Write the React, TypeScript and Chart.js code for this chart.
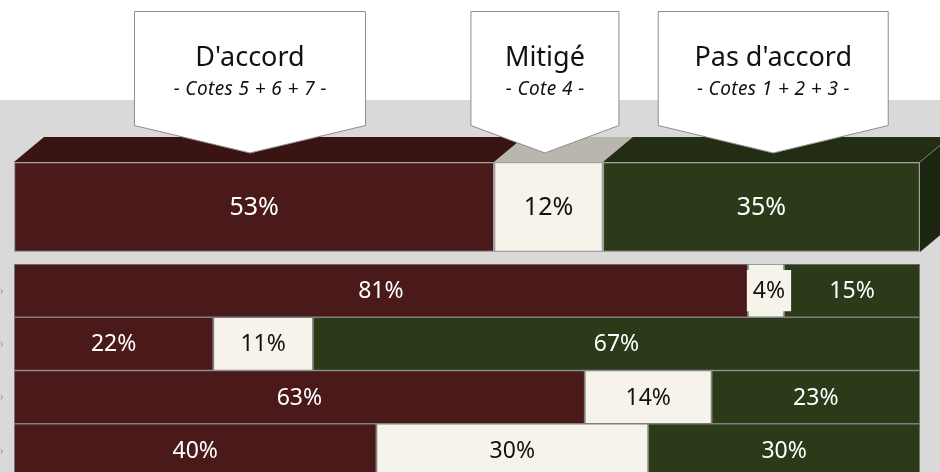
import React, { useEffect, useRef } from "react";
import { Chart, registerables } from "chart.js";

Chart.register(...registerables);

// ---------- data ----------
const seriesNames = ["D'accord", "Mitigé", "Pas d'accord"];
const seriesSubtitles = ["- Cotes 5 + 6 + 7 -", "- Cote 4 -", "- Cotes 1 + 2 + 3 -"];
const totalCategory = ["Total"];
const totalAccord = [53];
const totalMitige = [12];
const totalPasAccord = [35];
const itemCategories = ["Q1", "Q2", "Q3", "Q4"];
const itemAccord = [81, 22, 63, 40];
const itemMitige = [4, 11, 14, 30];
const itemPasAccord = [15, 67, 23, 30];
// callout anchor positions (in % units of the x scale) and widths
const calloutCenters = [26.05, 58.6, 83.8];
const calloutWidths = [231, 148, 230];

// ---------- styles ----------
const frontColors = ["#4a1a1a", "#f6f3ea", "#2b3a18"];
const topColors = ["#3a1313", "#b8b6af", "#222d13"];
const sideColor = "#1d2610";
const labelColors = ["#ffffff", "#111111", "#ffffff"];
const FONT = '"Noto Sans", "DejaVu Sans", sans-serif';

const DX = 30;
const DY = 25;

function drawLabels(chart: any, fontSize: number, boxSmall: boolean) {
  const ctx = chart.ctx;
  ctx.save();
  ctx.font = `${fontSize}px ${FONT}`;
  ctx.textAlign = "center";
  ctx.textBaseline = "middle";
  chart.data.datasets.forEach((ds: any, di: number) => {
    const meta = chart.getDatasetMeta(di);
    meta.data.forEach((el: any, i: number) => {
      const v = ds.data[i];
      const left = Math.min(el.x, el.base);
      const right = Math.max(el.x, el.base);
      const cx = (left + right) / 2;
      const cy = el.y;
      const txt = `${v}%`;
      const tw = ctx.measureText(txt).width;
      if (boxSmall && right - left < tw + 10) {
        const bw = tw + 12;
        const bh = el.height - 12;
        ctx.fillStyle = frontColors[di];
        ctx.fillRect(cx - bw / 2 + 3, cy - bh / 2, bw, bh);
        ctx.fillStyle = labelColors[di];
        ctx.fillText(txt, cx + 3, cy + 1);
      } else {
        ctx.fillStyle = labelColors[di];
        ctx.fillText(txt, cx, cy + 1);
      }
    });
  });
  ctx.restore();
}

const topPlugin = {
  id: "top3d",
  afterDatasetsDraw(chart: any) {
    const ctx = chart.ctx;
    ctx.save();
    let lastRight = 0;
    let top = 0;
    let bottom = 0;
    chart.data.datasets.forEach((_ds: any, di: number) => {
      const meta = chart.getDatasetMeta(di);
      meta.data.forEach((el: any) => {
        const left = Math.min(el.x, el.base);
        const right = Math.max(el.x, el.base);
        top = el.y - el.height / 2;
        bottom = el.y + el.height / 2;
        ctx.fillStyle = topColors[di];
        ctx.beginPath();
        ctx.moveTo(left, top);
        ctx.lineTo(right, top);
        ctx.lineTo(right + DX, top - DY);
        ctx.lineTo(left + DX, top - DY);
        ctx.closePath();
        ctx.fill();
        lastRight = Math.max(lastRight, right);
      });
    });
    // side face
    ctx.fillStyle = sideColor;
    ctx.beginPath();
    ctx.moveTo(lastRight, top);
    ctx.lineTo(lastRight + DX, top - DY);
    ctx.lineTo(lastRight + DX, bottom - DY);
    ctx.lineTo(lastRight, bottom);
    ctx.closePath();
    ctx.fill();
    ctx.strokeStyle = "rgba(140,140,140,0.8)";
    ctx.lineWidth = 1;
    ctx.beginPath();
    ctx.moveTo(lastRight, top);
    ctx.lineTo(lastRight + DX, top - DY);
    ctx.stroke();
    ctx.restore();

    drawLabels(chart, 25, false);

    // callouts
    const xs = chart.scales.x;
    ctx.save();
    calloutCenters.forEach((c, i) => {
      const cx = xs.getPixelForValue(c);
      const w = calloutWidths[i];
      const x0 = cx - w / 2;
      const x1 = cx + w / 2;
      const y0 = 11.5;
      const y1 = 125.5;
      const tipY = 153;
      ctx.beginPath();
      ctx.moveTo(x0, y0);
      ctx.lineTo(x1, y0);
      ctx.lineTo(x1, y1);
      ctx.lineTo(cx, tipY);
      ctx.lineTo(x0, y1);
      ctx.closePath();
      ctx.fillStyle = "#ffffff";
      ctx.fill();
      ctx.strokeStyle = "#8c8c8c";
      ctx.lineWidth = 1;
      ctx.stroke();
      ctx.fillStyle = "#111111";
      ctx.textAlign = "center";
      ctx.textBaseline = "alphabetic";
      ctx.font = `27px ${FONT}`;
      (ctx as any).letterSpacing = "0px";
      ctx.fillText(seriesNames[i], cx, 66);
      ctx.font = `italic 19px ${FONT}`;
      (ctx as any).letterSpacing = "0.4px";
      ctx.fillText(seriesSubtitles[i], cx + 0.2, 95);
      (ctx as any).letterSpacing = "0px";
    });
    ctx.restore();
  },
};

const bottomPlugin = {
  id: "bottomLabels",
  afterDatasetsDraw(chart: any) {
    drawLabels(chart, 23, true);
    const ctx = chart.ctx;
    const ys = chart.scales.y;
    ctx.save();
    ctx.fillStyle = "#9a9a9a";
    ctx.font = `11px ${FONT}`;
    ctx.textAlign = "left";
    ctx.textBaseline = "middle";
    itemCategories.forEach((_c, i) => {
      ctx.fillText("›", 0, ys.getPixelForValue(i));
    });
    ctx.restore();
  },
};

function makeDatasets(a: number[], m: number[], p: number[], border: string, bw: number) {
  return [a, m, p].map((d, i) => ({
    label: seriesNames[i],
    data: d,
    backgroundColor: frontColors[i],
    borderColor: border,
    borderWidth: bw,
    borderSkipped: false,
    categoryPercentage: 1,
    barPercentage: 1,
  }));
}

function baseOptions(padding: any) {
  return {
    indexAxis: "y" as const,
    responsive: false,
    animation: false as const,
    layout: { padding },
    plugins: { legend: { display: false }, tooltip: { enabled: false } },
    scales: {
      x: { stacked: true, min: 0, max: 100, display: false },
      y: { stacked: true, display: false },
    },
  };
}

export default function App() {
  const topRef = useRef<HTMLCanvasElement>(null);
  const botRef = useRef<HTMLCanvasElement>(null);

  useEffect(() => {
    const c1 = new Chart(topRef.current!, {
      type: "bar",
      data: {
        labels: totalCategory,
        datasets: makeDatasets(totalAccord, totalMitige, totalPasAccord, "rgba(150,150,150,0.85)", 1.5) as any,
      },
      options: baseOptions({ left: 14, right: 20, top: 162, bottom: 8 }) as any,
      plugins: [topPlugin],
    });
    const c2 = new Chart(botRef.current!, {
      type: "bar",
      data: {
        labels: itemCategories,
        datasets: makeDatasets(itemAccord, itemMitige, itemPasAccord, "#7f7f7f", 1.2) as any,
      },
      options: baseOptions({ left: 14, right: 20, top: 4, bottom: 1 }) as any,
      plugins: [bottomPlugin],
    });
    return () => {
      c1.destroy();
      c2.destroy();
    };
  }, []);

  return (
    <div
      style={{
        position: "absolute",
        left: 0,
        top: 0,
        width: 940,
        height: 472,
        overflow: "hidden",
        background: "linear-gradient(#ffffff 0px, #ffffff 100px, #d9d9d9 100px, #d9d9d9 100%)",
      }}
    >
      <canvas ref={topRef} width={940} height={260} style={{ position: "absolute", left: 0, top: 0, width: 940, height: 260 }} />
      <canvas ref={botRef} width={940} height={218} style={{ position: "absolute", left: 0, top: 260, width: 940, height: 218 }} />
    </div>
  );
}
